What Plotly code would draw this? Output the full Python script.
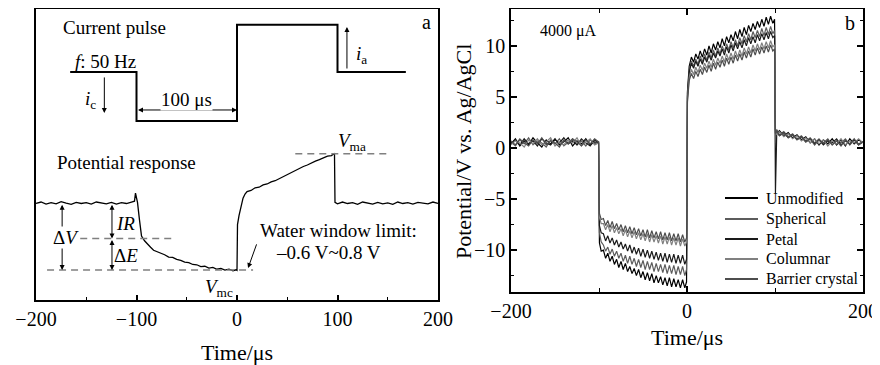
import plotly.graph_objects as go

# ---------------- Panel a (schematic) ----------------
PULSE_T = [-166, -100, -100, 0, 0, 100, 100, 168]
PULSE_V = [77, 77, 60.5, 60.5, 93, 93, 77, 77]

RESP_T = [-200, -195, -190, -185, -180, -175, -170, -165, -160, -155, -150, -145, -140, -135, -130, -125, -120, -115, -110, -105,
          -102, -101, -99, -97, -95, -92, -89, -86, -83, -80,
          -76, -72, -68, -64, -60, -56, -52, -48, -44, -40, -36, -32, -28, -24, -20, -16, -12, -8, -4, -1,
          0, 0.5, 2, 4, 6, 8, 10,
          14, 18, 22, 26, 30, 34, 38, 42, 46, 50, 54, 58, 62, 66, 70, 74, 78, 82, 86, 90, 94, 97,
          97.5, 100, 105, 110, 115, 120, 125, 130, 135, 140, 145, 150, 155, 160, 165, 170, 175, 180, 185, 190, 195, 200]
RESP_V = [32.6, 33.1, 32.4, 32.9, 32.5, 33.2, 32.7, 32.3, 33.0, 32.6, 32.9, 32.4, 33.1, 32.7, 32.5, 33.0, 32.4, 32.9, 32.6, 33.1,
          33.4, 36.1, 33.0, 27.0, 21.6, 20.0, 18.7, 17.8, 16.8, 16.4,
          15.6, 15.3, 14.5, 14.4, 13.7, 13.4, 12.8, 12.6, 12.0, 11.9, 11.3, 11.4, 10.8, 11.0, 10.4, 10.7, 10.1, 10.4, 9.9, 10.2,
          10.0, 25.5, 28.5, 31.8, 34.4, 35.8, 36.6,
          37.0, 37.9, 38.1, 38.9, 39.2, 39.9, 40.3, 41.0, 41.6, 42.4, 42.9, 43.8, 44.3, 45.1, 45.6, 46.3, 46.9, 47.4, 47.9, 48.6, 48.8, 49.6,
          33.0, 32.5, 33.1, 32.6, 32.9, 32.3, 33.1, 32.7, 32.4, 33.0, 32.5, 32.8, 32.3, 33.1, 32.6, 32.9, 32.4, 33.0, 32.7, 32.5, 33.1, 32.6]

LEVEL_BASE = 32.7
LEVEL_VMA = 49.4
LEVEL_IR = 20.8
LEVEL_VMC = 10.1

# ---------------- Panel b (measured potentials) ----------------
T_PRE = [-200, -195, -190, -185, -180, -175, -170, -165, -160, -155, -150, -145, -140, -135, -130, -125, -120, -115, -110, -105, -100.5]
T_NEG = [-99.5, -97.5, -95, -92.5, -90, -87.5, -85, -82.5, -80, -77.5, -75, -72.5, -70, -67.5, -65, -62.5, -60, -57.5, -55, -52.5,
         -50, -47.5, -45, -42.5, -40, -37.5, -35, -32.5, -30, -27.5, -25, -22.5, -20, -17.5, -15, -12.5, -10, -7.5, -5, -2.5, -0.5]
T_POS = [0.5, 2.5, 5, 7.5, 10, 12.5, 15, 17.5, 20, 22.5, 25, 27.5, 30, 32.5, 35, 37.5, 40, 42.5, 45, 47.5,
         50, 52.5, 55, 57.5, 60, 62.5, 65, 67.5, 70, 72.5, 75, 77.5, 80, 82.5, 85, 87.5, 90, 92.5, 95, 97.5, 99.5]
T_POST = [100.5, 102, 105, 110, 115, 120, 125, 130, 135, 140, 145, 150, 155, 160, 165, 170, 175, 180, 185, 190, 195, 200]
T_B = T_PRE + T_NEG + T_POS + T_POST

SERIES_NAMES = ["Unmodified", "Spherical", "Petal", "Columnar", "Barrier crystal"]
SERIES_COLORS = ["#000000", "#5c5c5c", "#1a1a1a", "#808080", "#4d4d4d"]

UNMODIFIED = ([0.4, 0.9, 0.2, 0.7, 0.3, 1.0, 0.5, 0.1, 0.8, 0.4, 0.9, 0.3, 0.6, 1.0, 0.2, 0.7, 0.4, 0.9, 0.3, 0.6, 0.5]
              + [-9.3, -10.1, -10.0, -10.8, -10.3, -11.1, -10.6, -11.4, -10.9, -11.7, -11.1, -11.9, -11.3, -12.1, -11.6, -12.3, -11.8, -12.5, -11.9, -12.7,
                 -12.1, -12.9, -12.2, -13.0, -12.3, -13.2, -12.5, -13.2, -12.6, -13.4, -12.7, -13.5, -12.7, -13.6, -12.8, -13.6, -12.9, -13.7, -12.9, -13.7, -13.1]
              + [5.5, 8.0, 8.9, 8.4, 9.2, 8.7, 9.5, 8.9, 9.7, 9.1, 10.0, 9.3, 10.2, 9.6, 10.4, 9.8, 10.7, 10.0, 10.9, 10.3,
                 11.1, 10.5, 11.4, 10.7, 11.6, 10.9, 11.8, 11.1, 12.0, 11.4, 12.2, 11.6, 12.4, 11.8, 12.6, 11.9, 12.8, 12.1, 12.9, 12.2, 12.6]
              + [1.8, 1.4, 1.7, 1.2, 1.5, 1.0, 1.3, 0.8, 1.1, 0.5, 0.9, 0.3, 0.8, 0.4, 0.9, 0.3, 0.8, 0.2, 0.9, 0.4, 0.8, 0.5])
SPHERICAL = ([0.6, 0.2, 0.8, 0.4, 1.0, 0.3, 0.7, 0.5, 0.1, 0.8, 0.4, 0.9, 0.2, 0.6, 0.9, 0.3, 0.7, 0.2, 0.8, 0.4, 0.6]
             + [-8.3, -9.2, -9.5, -10.1, -9.7, -10.4, -9.9, -10.6, -10.1, -10.8, -10.3, -11.1, -10.5, -11.3, -10.6, -11.4, -10.8, -11.6, -10.9, -11.7,
                -11.0, -11.9, -11.1, -11.9, -11.2, -12.1, -11.3, -12.1, -11.4, -12.2, -11.4, -12.3, -11.5, -12.3, -11.5, -12.4, -11.6, -12.4, -11.6, -12.5, -11.9]
             + [5.3, 7.6, 8.5, 8.0, 8.7, 8.2, 9.0, 8.4, 9.2, 8.6, 9.4, 8.8, 9.6, 9.0, 9.8, 9.2, 10.0, 9.4, 10.2, 9.6,
                10.4, 9.8, 10.6, 10.0, 10.8, 10.2, 11.0, 10.4, 11.2, 10.6, 11.4, 10.8, 11.5, 10.9, 11.7, 11.0, 11.8, 11.1, 11.9, 11.2, 11.5]
             + [1.5, 1.8, 1.3, 1.6, 1.1, 1.4, 0.9, 1.2, 0.7, 1.0, 0.5, 0.9, 0.4, 0.8, 0.3, 0.7, 0.5, 0.9, 0.3, 0.8, 0.4, 0.6])
PETAL = ([0.5, 0.8, 0.3, 0.9, 0.4, 0.7, 0.2, 0.9, 0.5, 0.3, 0.8, 0.5, 1.0, 0.4, 0.7, 0.3, 0.9, 0.5, 0.2, 0.8, 0.5]
         + [-7.6, -8.3, -8.4, -9.1, -8.6, -9.3, -8.8, -9.5, -9.0, -9.7, -9.2, -9.9, -9.4, -10.1, -9.5, -10.3, -9.7, -10.4, -9.8, -10.6,
            -9.9, -10.7, -10.0, -10.8, -10.1, -10.9, -10.2, -11.0, -10.3, -11.1, -10.3, -11.2, -10.4, -11.2, -10.4, -11.3, -10.5, -11.3, -10.5, -11.4, -10.9]
         + [5.0, 7.4, 8.3, 7.8, 8.5, 8.0, 8.7, 8.2, 8.9, 8.4, 9.1, 8.6, 9.3, 8.8, 9.5, 9.0, 9.7, 9.1, 9.9, 9.3,
            10.1, 9.5, 10.3, 9.7, 10.4, 9.8, 10.6, 10.0, 10.8, 10.2, 10.9, 10.3, 11.1, 10.5, 11.2, 10.6, 11.3, 10.7, 11.4, 10.8, 11.0]
         + [-4.4, 1.6, 1.2, 1.5, 1.0, 1.3, 0.8, 1.1, 0.6, 0.9, 0.4, 0.8, 0.3, 0.7, 0.5, 0.9, 0.3, 0.7, 0.4, 0.8, 0.3, 0.6])
COLUMNAR = ([0.3, 0.7, 0.5, 0.1, 0.8, 0.4, 0.9, 0.3, 0.6, 1.0, 0.2, 0.6, 0.3, 0.8, 0.5, 1.0, 0.2, 0.6, 0.9, 0.3, 0.5]
            + [-6.8, -7.4, -7.4, -8.0, -7.5, -8.2, -7.6, -8.3, -7.8, -8.4, -7.9, -8.6, -8.0, -8.7, -8.1, -8.8, -8.2, -8.9, -8.3, -9.0,
               -8.4, -9.1, -8.4, -9.2, -8.5, -9.2, -8.6, -9.3, -8.6, -9.4, -8.7, -9.4, -8.7, -9.5, -8.8, -9.5, -8.8, -9.6, -8.9, -9.6, -9.2]
            + [4.8, 6.9, 7.7, 7.2, 7.9, 7.4, 8.1, 7.6, 8.3, 7.8, 8.5, 7.9, 8.7, 8.1, 8.8, 8.3, 9.0, 8.4, 9.2, 8.6,
               9.3, 8.7, 9.5, 8.9, 9.6, 9.0, 9.8, 9.2, 9.9, 9.3, 10.1, 9.5, 10.2, 9.6, 10.3, 9.7, 10.4, 9.8, 10.5, 9.9, 10.1]
            + [1.7, 1.3, 1.6, 1.1, 1.4, 0.9, 1.2, 0.7, 1.0, 0.5, 0.9, 0.4, 0.8, 0.2, 0.7, 0.4, 0.9, 0.3, 0.7, 0.5, 0.9, 0.5])
BARRIER = ([0.7, 0.3, 0.9, 0.5, 0.2, 0.8, 0.4, 1.0, 0.3, 0.7, 0.5, 0.1, 0.8, 0.4, 0.9, 0.6, 0.2, 0.8, 0.4, 0.9, 0.6]
           + [-6.4, -7.0, -6.9, -7.6, -7.1, -7.8, -7.2, -7.9, -7.4, -8.0, -7.5, -8.2, -7.6, -8.3, -7.7, -8.4, -7.8, -8.5, -7.9, -8.6,
              -8.0, -8.7, -8.0, -8.8, -8.1, -8.8, -8.2, -8.9, -8.2, -9.0, -8.3, -9.0, -8.3, -9.1, -8.4, -9.1, -8.4, -9.2, -8.5, -9.2, -8.8]
           + [4.5, 6.6, 7.3, 6.8, 7.5, 7.0, 7.7, 7.2, 7.9, 7.4, 8.1, 7.5, 8.3, 7.7, 8.4, 7.9, 8.6, 8.0, 8.8, 8.2,
              8.9, 8.3, 9.1, 8.5, 9.2, 8.6, 9.4, 8.8, 9.5, 8.9, 9.7, 9.1, 9.8, 9.2, 9.9, 9.3, 10.0, 9.4, 10.1, 9.5, 9.7]
           + [1.4, 1.7, 1.2, 1.5, 1.0, 1.3, 0.8, 1.1, 0.6, 0.9, 0.3, 0.8, 0.5, 0.9, 0.3, 0.7, 0.2, 0.8, 0.4, 0.9, 0.3, 0.6])
SERIES_VALUES = [UNMODIFIED, SPHERICAL, PETAL, COLUMNAR, BARRIER]
assert len(RESP_T) == len(RESP_V)
for _v in SERIES_VALUES:
    assert len(_v) == len(T_B)

FONT = "Liberation Serif"
# the page body has an 8px margin: the figure is sized to fill the rest of the window
OFF = 8
W, H = 880 - OFF, 365 - OFF


def px(xp):
    return (xp - OFF) / W


def py(yp):
    return 1 - (yp - OFF) / H


fig = go.Figure()

# panel a traces
fig.add_trace(go.Scatter(x=PULSE_T, y=PULSE_V, mode="lines", line=dict(color="black", width=2),
                         xaxis="x", yaxis="y", showlegend=False, hoverinfo="skip"))
fig.add_trace(go.Scatter(x=RESP_T, y=RESP_V, mode="lines", line=dict(color="black", width=1.3),
                         xaxis="x", yaxis="y", showlegend=False, hoverinfo="skip"))

# panel b traces
for name, color, vals in zip(SERIES_NAMES, SERIES_COLORS, SERIES_VALUES):
    fig.add_trace(go.Scatter(x=T_B, y=vals, mode="lines", name=name,
                             line=dict(color=color, width=1.2),
                             xaxis="x2", yaxis="y2", showlegend=False))

dash_style = dict(color="#808080", width=1.5, dash="7px,5px")
shapes = [
    dict(type="line", xref="x", yref="y", x0=58, x1=153, y0=LEVEL_VMA, y1=LEVEL_VMA, line=dash_style),
    dict(type="line", xref="x", yref="y", x0=-156, x1=-61, y0=LEVEL_IR, y1=LEVEL_IR, line=dash_style),
    dict(type="line", xref="x", yref="y", x0=-189, x1=16, y0=LEVEL_VMC, y1=LEVEL_VMC, line=dash_style),
]


def text(x, y, s, size=19, bg=None, xanchor="center", xref="x", yref="y", angle=0):
    d = dict(x=x, y=y, xref=xref, yref=yref, text=s, showarrow=False, textangle=angle,
             font=dict(family=FONT, size=size, color="black"), xanchor=xanchor, yanchor="middle")
    if bg:
        d["bgcolor"] = bg
        d["borderpad"] = 0
    return d


def arrow(x, y, ax, ay, both=False):
    return dict(x=x, y=y, ax=ax, ay=ay, xref="x", yref="y", axref="x", ayref="y", text="",
                showarrow=True, arrowhead=2, arrowsize=1, arrowwidth=1, arrowcolor="black",
                arrowside="end+start" if both else "end", standoff=0, startstandoff=0)


annotations = [
    text(-122, 91.9, "Current pulse"),
    text(-131, 80.7, "<i>f</i>: 50 Hz"),
    text(-146, 67.6, "<i>i</i><sub>c</sub>"),
    arrow(-132, 63.2, -132, 75.7),
    arrow(0, 64.2, -100, 64.2, both=True),
    text(-50, 67.8, "100 μs", bg="white"),
    arrow(109.4, 92.2, 109.4, 77.7),
    text(124, 82.8, "<i>i</i><sub>a</sub>"),
    text(189, 93.9, "a", size=20),
    text(-110, 46.6, "Potential response"),
    text(114, 53.5, "<i>V</i><sub>ma</sub>"),
    text(-18, 4.0, "<i>V</i><sub>mc</sub>"),
    arrow(-174, LEVEL_VMC, -174, LEVEL_BASE, both=True),
    text(-170, 21, "Δ<i>V</i>", bg="white"),
    arrow(-124.4, LEVEL_IR, -124.4, LEVEL_BASE, both=True),
    arrow(-124.4, LEVEL_VMC, -124.4, LEVEL_IR, both=True),
    text(-110.5, 26, "<i>IR</i>"),
    text(-110.5, 15.2, "Δ<i>E</i>"),
    text(100.5, 23.6, "Water window limit:"),
    text(91, 15.9, "–0.6 V~0.8 V"),
    arrow(11, 10.8, 20, 19.3),
    # panel b labels
    text(-135, 11.5, "4000 μA", size=16, xref="x2", yref="y2"),
    text(185, 12.2, "b", size=20, xref="x2", yref="y2"),
    # axis titles
    text(px(237), py(352), "Time/μs", size=22, xref="paper", yref="paper"),
    text(px(687), py(337), "Time/μs", size=22, xref="paper", yref="paper"),
    text(px(463), py(152), "Potential/V vs. Ag/AgCl", size=22, xref="paper", yref="paper", angle=-90),
]

# manual legend (panel b)
LEG_ROWS_Y = [198, 219, 239, 259, 279]
for name, color, ypx in zip(SERIES_NAMES, SERIES_COLORS, LEG_ROWS_Y):
    shapes.append(dict(type="line", xref="paper", yref="paper", x0=px(725), x1=px(758),
                       y0=py(ypx), y1=py(ypx), line=dict(color=color, width=2)))
    annotations.append(text(px(764), py(ypx), name, size=16, xanchor="left", xref="paper", yref="paper"))

axis_common = dict(showgrid=False, zeroline=False, showline=True, linecolor="black", linewidth=1.5,
                   tickcolor="black", tickfont=dict(family=FONT, size=20, color="black"), automargin=False)

TOP = 9  # topmost pixel row usable for the frames

fig.update_layout(
    width=W, height=H,
    margin=dict(l=0, r=0, t=0, b=0),
    paper_bgcolor="white", plot_bgcolor="white",
    font=dict(family=FONT, size=20, color="black"),
    shapes=shapes,
    annotations=annotations,
    showlegend=False,
    xaxis=dict(domain=[px(36), px(438)], range=[-200, 200], dtick=100, tick0=0,
               ticks="inside", ticklen=5, tickwidth=1.5, mirror=True, anchor="y",
               minor=dict(dtick=50, ticks="inside", ticklen=3, tickwidth=1.2, tickcolor="black"),
               **axis_common),
    yaxis=dict(domain=[py(300), py(TOP)], range=[0, (300 - TOP) / 2.96], showticklabels=False, ticks="",
               mirror=True, anchor="x", **axis_common),
    xaxis2=dict(domain=[px(511), px(863)], range=[-200, 200], dtick=200, tick0=0,
                ticks="inside", ticklen=6, tickwidth=1.5, mirror="ticks", anchor="y2",
                minor=dict(dtick=100, ticks="inside", ticklen=4, tickwidth=1.2, tickcolor="black"),
                **axis_common),
    yaxis2=dict(domain=[py(292), py(TOP)], range=[-14.1, 14.0 - (TOP - 5) / 10.2], dtick=5, tick0=0,
                ticks="inside", ticklen=6, tickwidth=1.5, mirror="ticks", anchor="x2",
                minor=dict(dtick=2.5, ticks="inside", ticklen=3, tickwidth=1.2, tickcolor="black"),
                **axis_common),
)

fig.write_html("out.html")
